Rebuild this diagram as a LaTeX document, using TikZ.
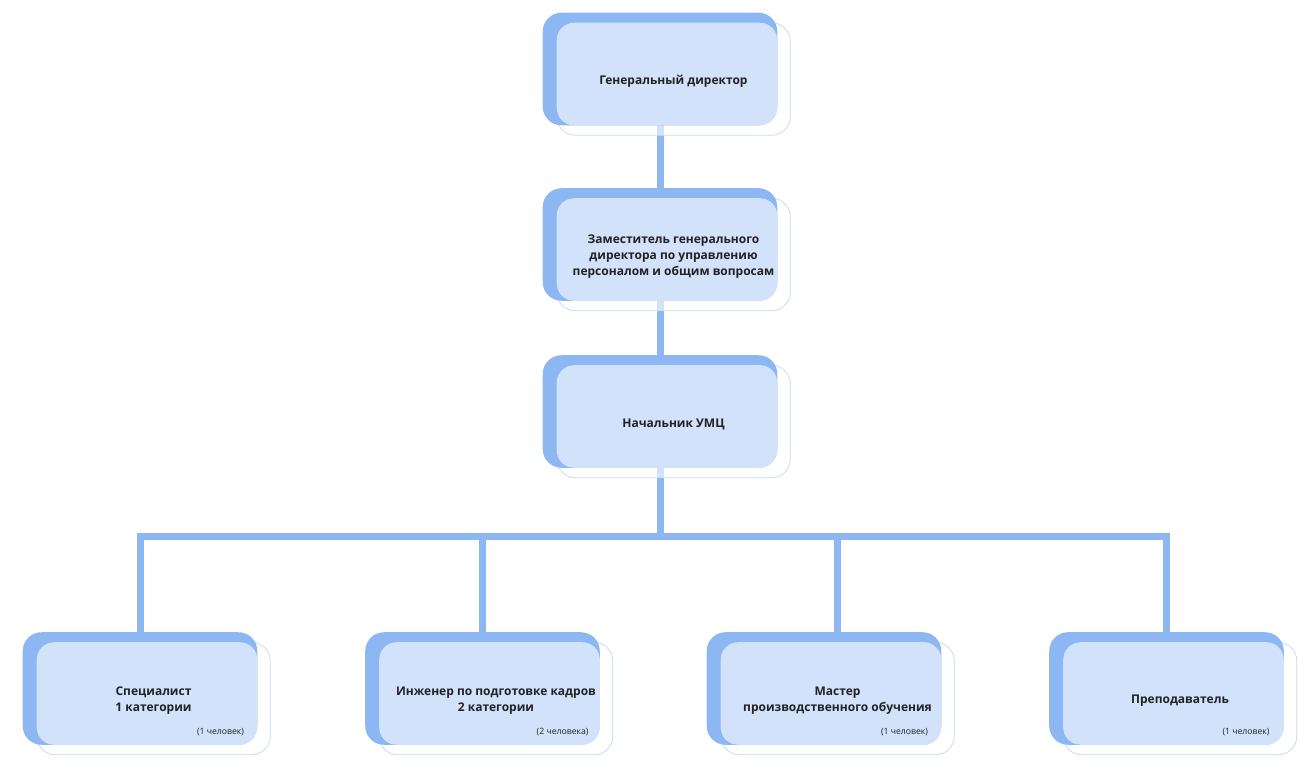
\documentclass[tikz,border=0pt]{standalone}
\usepackage{fontspec}
\setmainfont{Open Sans}
\usetikzlibrary{calc, backgrounds}

\definecolor{bkblue}{HTML}{8DB7F2}
\definecolor{frblue}{HTML}{D2E2FA}
\definecolor{olblue}{HTML}{C6DAF8}
\definecolor{txt}{HTML}{222222}

\begin{document}
\begin{tikzpicture}[
  x=0.75pt, y=-0.75pt,
  nd/.style={minimum width=174.75pt, minimum height=84pt, inner sep=0pt,
             align=center, font=\bfseries\fontsize{9}{12}\selectfont, text=txt},
  note/.style={font=\fontsize{6.5}{8}\selectfont, text=txt, inner sep=0pt},
  bk/.style={fill=bkblue, rounded corners=14pt},
  fr/.style={fill=frblue, rounded corners=13pt},
  ol/.style={draw=olblue, line width=0.6pt, fill=white, fill opacity=0.6,
             rounded corners=14pt},
  link/.style={draw=bkblue, line width=5.25pt}
]
  \useasboundingbox (0,0) rectangle (1313,774);

  % Top chain (text sits a little below the box centre)
  \node[nd] (gd) at (673.5,81.5) {Генеральный директор};
  \node[nd] (zam) at (673.5,257) {Заместитель генерального\\директора по управлению\\персоналом и общим вопросам};
  \node[nd] (nach) at (673.5,424) {Начальник УМЦ};

  % Bottom row
  \node[nd] (sp) at (153.5,701) {Специалист\\1 категории};
  \node[nd] (ing) at (496,701) {Инженер по подготовке кадров\\2 категории};
  \node[nd] (mas) at (837.5,701) {Мастер\\производственного обучения};
  \node[nd] (pre) at (1180,701) {Преподаватель};

  % Head counts
  \node[note, anchor=east] (sp-n) at ($(sp.east)+(-26,31)$) {(1 человек)};
  \node[note, anchor=east] (ing-n) at ($(ing.east)+(-24,31)$) {(2 человека)};
  \node[note, anchor=east] (mas-n) at ($(mas.east)+(-26,31)$) {(1 человек)};
  \node[note, anchor=east] (pre-n) at ($(pre.east)+(-27,31)$) {(1 человек)};

  % Connector points
  \coordinate (gd-c) at ($(gd)+(-13.5,0)$);
  \coordinate (zam-c) at ($(zam)+(-13.5,0)$);
  \coordinate (nach-c) at ($(nach)+(-13.5,0)$);
  \coordinate (sp-c) at ($(sp)+(-13.5,0)$);
  \coordinate (ing-c) at ($(ing)+(-14,0)$);
  \coordinate (mas-c) at ($(mas)+(-0.5,0)$);
  \coordinate (pre-c) at ($(pre)+(-13.5,0)$);
  \coordinate (bus) at (660,536.5);

  \begin{scope}[on background layer]
    % Connectors
    \draw[link] (gd-c) -- (zam-c);
    \draw[link] (zam-c) -- (nach-c);
    \draw[link] (nach-c) -- (bus);
    \draw[link] (sp-c) |- (pre-c |- bus) -- (pre-c);
    \draw[link] (ing-c) -- (ing-c |- bus);
    \draw[link] (mas-c) -- (mas-c |- bus);

    % Boxes: outline, back, front
    \foreach \n in {gd,zam,nach,sp,ing,mas,pre} {
      \path[ol] ($(\n.north west)+(0,-2.5)$) rectangle ($(\n.south east)+(0,-2.5)$);
      \fill[bk] ($(\n.north west)+(-14,-12.5)$) rectangle ($(\n.south east)+(-13,-12.5)$);
      \fill[fr] ($(\n.north west)+(0,-2.5)$) rectangle ($(\n.south east)+(-13,-12.5)$);
    }
  \end{scope}
\end{tikzpicture}
\end{document}
